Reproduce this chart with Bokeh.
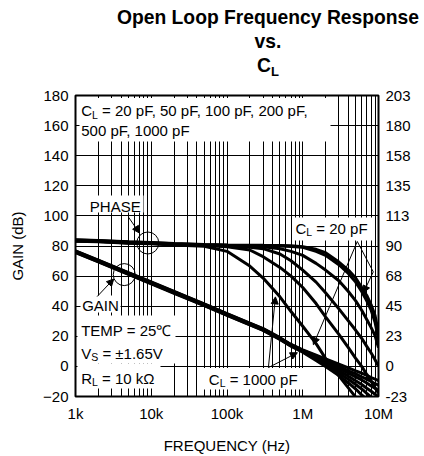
from bokeh.plotting import figure
from bokeh.layouts import column
from bokeh.models import (FixedTicker, LinearAxis, Range1d, Label, BoxAnnotation, Arrow,
                          NormalHead, Div)
from bokeh.embed import file_html
from bokeh.resources import INLINE

FONT = "Liberation Sans"

# ---------------- data ----------------
freq_hz = [1e3, 2e3, 5e3, 1e4, 2e4, 5e4, 1e5, 2e5, 3e5, 5e5, 7e5,
           1e6, 1.5e6, 2e6, 3e6, 4e6, 5e6, 6e6, 7e6, 8e6, 9e6, 1e7]

gain_20pF = [76.8, 70.6, 62.3, 56.1, 49.8, 41.6, 35.1, 28.8, 25.1, 19.1, 14.6,
             11.0, 7.5, 5.0, 1.5, -1.0, -3.0, -4.5, -6.0, -7.5, -8.5, -9.5]
gain_50pF = [76.6, 70.4, 62.1, 55.9, 49.6, 41.4, 34.9, 28.6, 24.9, 18.9, 14.4,
             10.7, 7.0, 4.0, 0.0, -3.0, -5.0, -7.0, -8.5, -10.0, -11.5, -12.5]
gain_100pF = [76.3, 70.1, 61.8, 55.6, 49.3, 41.1, 34.6, 28.3, 24.6, 18.6, 14.1,
              10.4, 6.3, 3.0, -1.5, -4.5, -7.0, -9.0, -11.0, -13.0, -14.5, -16.0]
gain_200pF = [76.1, 69.9, 61.6, 55.4, 49.1, 40.9, 34.4, 28.1, 24.4, 18.4, 13.9,
              10.1, 5.7, 2.0, -3.0, -6.5, -9.5, -12.0, -14.5, -16.5, -18.5, -20.0]
gain_500pF = [75.8, 69.6, 61.3, 55.1, 48.8, 40.6, 34.1, 27.8, 24.1, 18.1, 13.6,
              9.8, 5.0, 1.0, -4.5, -8.5, -12.0, -15.0, -18.0, -20.5, -23.0, -25.0]
gain_1000pF = [75.6, 69.4, 61.1, 54.9, 48.6, 40.4, 33.9, 27.6, 23.9, 17.9, 13.4,
               9.5, 4.0, 0.0, -6.0, -11.0, -15.0, -19.0, -22.0, -25.0, -28.0, -30.0]

phase_20pF = [94.6, 94.1, 93.1, 92.6, 91.8, 91.1, 90.8, 90.6, 90.5, 90.4, 90.2,
              89.5, 87.5, 85.0, 78.0, 72.0, 66.0, 59.0, 53.0, 46.0, 38.0, 25.0]
phase_50pF = [94.4, 93.9, 92.9, 92.4, 91.6, 90.9, 90.6, 90.4, 90.3, 90.0, 89.6,
              89.0, 86.0, 83.0, 76.0, 69.5, 63.0, 56.0, 49.0, 42.0, 33.0, 20.0]
phase_100pF = [94.2, 93.7, 92.7, 92.2, 91.4, 90.7, 90.3, 89.9, 89.5, 88.0, 86.0,
               83.0, 77.0, 72.0, 64.0, 56.0, 49.0, 42.0, 35.0, 29.0, 23.0, 14.0]
phase_200pF = [94.0, 93.5, 92.5, 92.0, 91.2, 90.5, 90.0, 89.0, 88.0, 84.0, 79.0,
               72.0, 63.0, 55.0, 43.0, 34.0, 27.0, 21.0, 15.0, 10.0, 5.0, 0.0]
phase_500pF = [93.8, 93.3, 92.3, 91.8, 91.0, 90.3, 89.5, 87.0, 82.0, 74.0, 67.5,
               59.0, 47.0, 37.0, 24.0, 14.0, 6.0, 0.0, -6.0, -11.0, -16.0, -20.0]
phase_1000pF = [93.6, 93.1, 92.1, 91.6, 90.8, 89.8, 86.0, 75.0, 66.0, 52.0, 41.0,
                30.0, 17.0, 6.0, -7.0, -16.0, -23.0, -29.0, -34.0, -38.0, -42.0, -45.0]

x_ticks = [1e3, 1e4, 1e5, 1e6, 1e7]
x_tick_labels = ["1k", "10k", "100k", "1M", "10M"]
gain_ticks = [-20, 0, 20, 40, 60, 80, 100, 120, 140, 160, 180]
phase_tick_labels = ["-23", "0", "23", "45", "68", "90", "113", "135", "158", "180", "203"]

# callouts (frequency, dB) for circles
phase_circle = (9.0e3, 82.0)
gain_circle = (4.4e3, 61.0)

TITLE_H = 80

# ---------------- title (HTML text) ----------------
line = "white-space:nowrap; width:312px; margin-left:112px; text-align:center;"
title_html = (
    f'<div style="font-family:\'{FONT}\'; font-weight:bold; font-size:19.3px; color:black; padding-top:5px;">'
    f'<div style="{line} line-height:25px;">Open Loop Frequency Response</div>'
    f'<div style="{line} line-height:24px;">vs.</div>'
    f'<div style="{line} line-height:24px;">C<span style="font-size:13px; position:relative; top:4px;">L</span></div>'
    '</div>'
)
title = Div(text=title_html, width=424, height=TITLE_H, margin=0)

# ---------------- main figure ----------------
p = figure(width=424, height=456 - TITLE_H, x_axis_type="log", x_range=(1e3, 1e7),
           y_range=(-20, 180), output_backend="svg", toolbar_location=None,
           min_border_left=75, min_border_right=46, min_border_top=95 - TITLE_H,
           min_border_bottom=59, margin=0)
p.extra_y_ranges = {"phase": Range1d(-22.5, 202.5)}
p.outline_line_color = "black"
p.outline_line_width = 2

minor = [m * d for d in x_ticks[:-1] for m in range(2, 10)]
p.xaxis.ticker = FixedTicker(ticks=x_ticks, minor_ticks=minor)
p.xaxis.major_label_overrides = {int(v): l for v, l in zip(x_ticks, x_tick_labels)}
p.xaxis.axis_label = "FREQUENCY (Hz)"
p.yaxis.ticker = FixedTicker(ticks=gain_ticks)
p.yaxis.axis_label = "GAIN (dB)"

ax_r = LinearAxis(y_range_name="phase",
                  ticker=FixedTicker(ticks=[v * 1.125 for v in gain_ticks]))
ax_r.major_label_overrides = {v * 1.125: l for v, l in zip(gain_ticks, phase_tick_labels)}
p.add_layout(ax_r, "right")

for ax in [p.xaxis[0], p.yaxis[0], ax_r]:
    ax.axis_line_color = None
    ax.major_tick_line_color = None
    ax.minor_tick_line_color = None
    ax.major_tick_out = 0
    ax.major_tick_in = 0
    ax.minor_tick_out = 0
    ax.minor_tick_in = 0
    ax.major_label_text_font = FONT
    ax.major_label_text_font_size = "15px"
    ax.major_label_text_color = "black"
    ax.axis_label_text_font = FONT
    ax.axis_label_text_font_size = "15px"
    ax.axis_label_text_font_style = "normal"
    ax.axis_label_text_color = "black"
p.xaxis.major_label_standoff = 8
p.xaxis.axis_label_standoff = 12
p.yaxis.major_label_standoff = 7
p.yaxis.axis_label_standoff = 14
ax_r.major_label_standoff = 7

p.xgrid.grid_line_color = "black"
p.xgrid.minor_grid_line_color = "black"
p.ygrid.grid_line_color = "black"
p.xgrid.grid_line_width = 1
p.ygrid.grid_line_width = 1

# white boxes behind the texts (frame-relative screen px)
boxes = [(4, 255, 255, 298.5), (12, 68, 184, 201), (5, 45, 84, 101),
         (2, 100, 33, 81), (2, 85, 8, 33), (127, 230, 7, 28.5), (218, 299, 156, 179)]
for l, r, b, tp in boxes:
    p.add_layout(BoxAnnotation(left=l, right=r, bottom=b, top=tp,
                               left_units="screen", right_units="screen",
                               bottom_units="screen", top_units="screen",
                               fill_color="white", fill_alpha=1.0, line_color=None,
                               level="underlay"))

# curves
for g in [gain_20pF, gain_50pF, gain_100pF, gain_200pF, gain_500pF, gain_1000pF]:
    p.line(freq_hz, g, line_color="black", line_width=3)
for ph in [phase_20pF, phase_50pF, phase_100pF, phase_200pF, phase_500pF, phase_1000pF]:
    p.line(freq_hz, ph, line_color="black", line_width=3, y_range_name="phase")

p.scatter([phase_circle[0]], [phase_circle[1]], marker="circle", size=22,
          fill_color=None, line_color="black", line_width=1)
p.scatter([gain_circle[0]], [gain_circle[1]], marker="circle", size=22,
          fill_color=None, line_color="black", line_width=1)

def arrow(x0, y0, x1, y1, head=True):
    end = NormalHead(size=7, fill_color="black", line_color="black", line_width=1) if head else None
    p.add_layout(Arrow(end=end, x_start=x0, y_start=y0, x_end=x1, y_end=y1,
                       line_color="black", line_width=1))

arrow(5.0e3, 99.2, 7.0e3, 88.6)
arrow(1.93e3, 46.4, 3.2e3, 58.1)
arrow(5.25e6, 83.0, 8.53e6, 62.8, head=False)
arrow(8.53e6, 62.8, 6.31e6, 48.9)
arrow(5.25e6, 83.0, 1.38e6, 14.4)
arrow(3.52e5, -0.8, 4.36e5, 46.2)
arrow(3.52e5, -0.8, 8.49e5, 9.1)

# texts inside the frame (frame-relative px; baseline lift compensates text metrics)
SPACE = 0.278
LIFT = 4.5

def add_text(x, y, s, size=15):
    p.add_layout(Label(x=x, y=y + LIFT, x_units="screen", y_units="screen", text=s,
                       text_font=FONT, text_font_size=f"{size}px",
                       text_color="black", text_align="left", text_baseline="alphabetic"))

def add_sub(x, y, main, main_w, sub, sub_w, rest, size=15):
    ss = round(size * 0.7, 1)
    add_text(x, y, main, size)
    add_text(x + main_w * size, y - 4, sub, ss)
    if rest:
        add_text(x + main_w * size + sub_w * ss + SPACE * size, y, rest, size)

add_sub(5.7, 281.5, "C", 0.722, "L", 0.556, "= 20 pF, 50 pF, 100 pF, 200 pF,")
add_text(5.7, 261.5, "500 pF, 1000 pF")
add_text(14.3, 186, "PHASE")
add_text(6.7, 87, "GAIN")
add_text(5.7, 62, "TEMP = 25\u2103")
add_sub(5.7, 39, "V", 0.667, "S", 0.667, "= \u00b11.65V")
add_sub(5.7, 14, "R", 0.722, "L", 0.556, "= 10 k\u03a9")
add_sub(133.3, 13, "C", 0.722, "L", 0.556, "= 1000 pF")
add_sub(220, 164, "C", 0.722, "L", 0.556, "= 20 pF")

open("out.html", "w").write(file_html(column(title, p, spacing=0), INLINE))
